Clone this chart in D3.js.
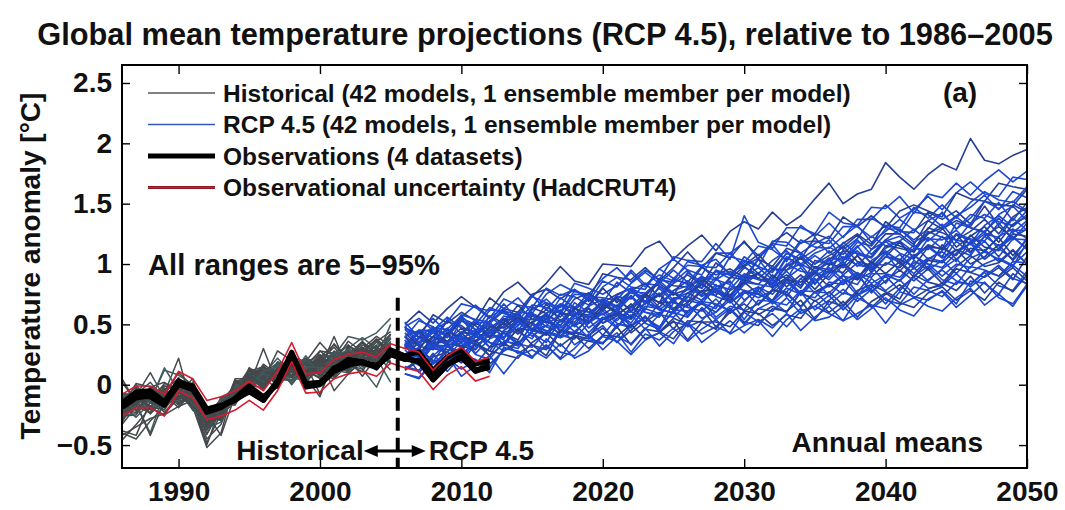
<!DOCTYPE html>
<html><head><meta charset="utf-8">
<script src="https://cdn.jsdelivr.net/npm/d3@7"></script>
<style>
body{margin:0;background:#fff;}
svg{display:block;}
text{font-family:"Liberation Sans",Arial,Helvetica,sans-serif;font-weight:bold;fill:#111;}
</style></head><body>
<svg id="chart" width="1065" height="510"></svg>
<script>
// ---------- data ----------
const titleText = "Global mean temperature projections (RCP 4.5), relative to 1986\u20132005";
const yLabelText = "Temperature anomaly [\u00B0C]";
const xTicks = [1990, 2000, 2010, 2020, 2030, 2040, 2050];
const yTicks = [-0.5, 0, 0.5, 1, 1.5, 2, 2.5];
const yTickLabels = ["\u22120.5", "0", "0.5", "1", "1.5", "2", "2.5"];
const legendLabels = [
  "Historical (42 models, 1 ensemble member per model)",
  "RCP 4.5 (42 models, 1 ensemble member per model)",
  "Observations (4 datasets)",
  "Observational uncertainty (HadCRUT4)"
];
const histYears = [1986,1987,1988,1989,1990,1991,1992,1993,1994,1995,1996,1997,1998,1999,2000,2001,2002,2003,2004,2005];
const rcpYears = [2006,2007,2008,2009,2010,2011,2012,2013,2014,2015,2016,2017,2018,2019,2020,2021,2022,2023,2024,2025,2026,2027,2028,2029,2030,2031,2032,2033,2034,2035,2036,2037,2038,2039,2040,2041,2042,2043,2044,2045,2046,2047,2048,2049,2050];
const obsYears = [1986,1987,1988,1989,1990,1991,1992,1993,1994,1995,1996,1997,1998,1999,2000,2001,2002,2003,2004,2005,2006,2007,2008,2009,2010,2011,2012];
const boundaryYear = 2005.5;

const histModels = [
[-.27,-.14,-.24,-.13,-.03,-.14,-.41,-.19,.01,-.03,.09,.22,.10,.07,.24,.24,.40,.37,.43,.55],
[-.42,-.35,-.28,-.24,-.11,-.03,-.37,-.23,-.02,-.07,.10,.18,.12,.10,.23,.33,.21,.31,.23,.42],
[-.33,-.18,-.18,-.07,.22,-.21,-.27,-.21,-.12,.11,.07,.03,.23,.19,.35,.22,.33,.21,.36,.44],
[-.40,-.45,-.30,-.18,-.09,-.18,-.48,-.24,-.15,.08,.14,.06,.14,.06,.28,.26,.24,.35,.24,.35],
[-.29,-.16,-.40,-.06,-.17,-.09,-.34,-.15,-.17,.05,.12,.04,.22,.17,.16,.15,.30,.39,.30,.41],
[-.27,-.16,-.42,-.13,-.06,-.14,-.24,-.42,-.09,.13,.11,.02,.15,.22,.15,.34,.20,.30,.40,.32],
[-.26,-.25,-.10,-.23,-.09,-.12,-.50,-.17,-.05,-.02,.17,.08,.06,.21,.20,.31,.17,.33,.30,.42],
[-.38,-.42,-.14,-.14,-.05,-.18,-.52,-.40,.02,.01,.13,.01,.16,.16,.28,.18,.25,.36,.25,.39],
[-.17,-.27,-.15,-.19,-.05,-.21,-.31,-.16,-.12,.04,.01,.19,.12,.21,.11,.26,.32,.27,.22,.50],
[-.46,-.33,-.19,-.25,-.18,-.13,-.45,-.33,-.04,.05,.04,.18,.18,.09,.20,.19,.36,.27,.38,.27],
[-.16,-.21,-.13,-.03,-.16,-.07,-.33,-.14,-.12,.05,.16,.03,.16,.11,.24,.10,.24,.30,.26,.38],
[-.27,-.10,-.24,-.11,-.03,-.13,-.21,-.24,-.03,-.04,.09,.03,.21,.16,.13,.40,.12,.28,.35,.28],
[-.13,-.19,-.11,-.19,-.08,-.02,-.36,-.31,-.01,.07,.05,.16,.08,.24,.09,.19,.27,.22,.36,.24],
[-.30,-.14,-.05,-.16,-.10,-.04,-.29,-.29,.02,.01,.11,.00,.12,.18,.25,.14,.23,.23,.33,.33],
[-.20,-.08,-.21,-.08,-.19,-.05,-.32,-.19,-.14,.14,.04,.28,.20,.06,.14,.28,.18,.31,.22,.32],
[-.15,-.18,-.23,-.07,-.06,-.19,-.27,-.12,-.10,-.02,.14,.11,.07,.15,.23,.15,.31,.18,.30,.28],
[-.25,-.24,-.09,-.10,.00,-.11,-.37,-.17,.01,.00,-.03,.19,.13,.12,.20,.26,.14,.29,.21,.39],
[-.18,-.09,-.18,-.21,-.03,-.09,-.41,-.20,-.12,.11,.15,.05,.15,.07,.17,.24,.20,.35,.19,.31],
[-.31,-.12,-.14,-.05,-.13,-.12,-.23,-.28,-.04,.13,-.01,.13,.11,.20,.14,.11,.32,.25,.29,.25],
[-.21,-.23,-.05,-.15,-.04,-.17,-.28,-.13,-.15,.06,.10,.07,.03,.21,.12,.27,.21,.28,.37,.26],
[-.12,-.15,-.20,-.13,-.01,-.14,-.25,-.30,-.06,.09,.03,.18,.06,.17,.07,.23,.29,.23,.20,.36],
[-.21,-.04,-.13,-.03,-.15,-.06,-.32,-.13,-.07,-.05,.12,.11,.18,.07,.16,.11,.28,.18,.27,.26],
[-.12,-.21,-.08,-.14,.02,-.09,-.24,-.23,-.12,.08,-.04,.15,.12,.11,.23,.13,.12,.29,.24,.22],
[-.18,-.09,-.20,-.01,-.05,-.14,-.20,-.17,-.16,.10,.06,.05,.17,.04,.19,.18,.13,.23,.32,.18],
[-.09,-.18,-.05,-.11,-.14,.02,-.37,-.19,-.01,.01,.13,.07,.04,.21,.12,.20,.10,.27,.19,.35],
[-.23,-.12,-.14,.01,-.03,-.13,-.27,-.29,.01,.04,-.02,.13,.19,.08,.15,.10,.22,.29,.21,.20],
[-.14,-.06,-.15,-.15,-.06,.01,-.32,-.14,-.08,-.04,.08,.03,.20,.12,.05,.23,.18,.17,.30,.30],
[-.24,-.15,-.03,-.08,-.12,-.04,-.38,-.10,-.10,.11,.00,.11,.08,.20,.18,.07,.24,.22,.20,.34],
[-.11,-.22,-.12,-.04,.00,-.16,-.28,-.24,.03,.02,.09,.16,.03,.14,.08,.27,.16,.13,.28,.25],
[-.19,-.07,-.07,-.19,-.04,-.01,-.35,-.18,-.09,.13,.01,.07,.16,.03,.22,.19,.15,.30,.16,.28],
[-.08,-.10,-.18,-.07,-.10,-.14,-.22,-.21,.02,-.01,.30,.00,.11,.17,.10,.15,.27,.15,.26,.32],
[-.27,-.05,-.09,-.12,-.01,-.07,-.33,-.15,-.14,.14,.04,.12,.01,.15,.21,.14,.19,.26,.22,.19],
[-.08,-.11,-.13,.12,.08,.00,-.25,-.26,-.03,.10,.02,.17,.06,.03,.13,.23,.10,.19,.27,.19],
[-.12,-.02,-.10,-.13,.06,-.09,-.35,-.11,-.07,.08,.12,-.02,.14,.12,.06,.17,.22,.07,.23,.22],
[-.18,.01,-.02,-.07,-.12,-.02,-.28,-.24,.04,-.03,.07,.13,.06,.19,.08,.05,.17,.24,.18,.25],
[.02,-.14,-.09,-.01,-.03,-.14,-.19,-.22,-.11,.09,-.02,.09,.16,.07,.22,-.05,.09,.20,.25,.12],
[-.15,-.08,.02,-.12,.01,-.03,-.36,-.13,-.01,-.05,.09,.05,.03,.21,.11,.19,.23,.13,-.02,.24],
[-.10,-.17,-.02,.02,-.06,-.11,-.24,-.28,.05,.05,.01,.14,.12,.01,.18,.13,.12,.26,.19,.26],
[-.20,-.03,-.11,-.04,.05,-.08,-.23,-.17,-.12,.12,.05,-.03,.13,.17,-.08,.21,.16,.11,.29,.17],
[-.07,-.09,.10,-.11,-.07,.05,-.35,-.15,-.06,.00,.15,.02,.11,.08,.20,.06,.21,.20,.12,.29],
[-.16,.00,-.14,.14,-.05,-.10,-.26,-.12,-.08,-.02,.11,.15,.00,.15,.14,.12,.10,.27,.22,.02],
[.05,-.15,-.06,-.09,.10,-.01,-.31,-.27,.02,.07,-.01,.08,.15,.06,-.10,.22,.19,.16,.13,.30]
];

const rcpModels = [
[.50,.61,.51,.63,.73,.64,.61,.77,.85,.73,.84,.98,.86,.83,1.00,.99,.98,1.13,1.19,1.04,1.15,1.24,1.11,1.27,1.35,1.29,1.43,1.32,1.40,1.54,1.67,1.50,1.58,1.62,1.84,1.72,1.62,1.74,1.83,1.78,2.04,1.86,1.83,1.90,1.95],
[.47,.42,.55,.43,.56,.66,.56,.63,.72,.59,.75,.83,.77,.75,.88,.97,.85,.95,.87,1.06,1.03,1.02,1.17,1.04,1.40,1.18,1.13,1.30,1.30,1.25,1.43,1.34,1.32,1.47,1.46,1.56,1.42,1.58,1.55,1.67,1.57,1.69,1.78,1.68,1.77],
[.32,.45,.45,.56,.47,.44,.62,.61,.58,.73,.68,.64,.84,.80,.75,.82,.93,.81,.96,1.04,.95,.91,1.09,1.09,1.18,1.07,1.17,1.15,1.32,1.23,1.34,1.22,1.37,1.37,1.49,1.38,1.45,1.56,1.45,1.59,1.68,1.58,1.56,1.72,1.70],
[.48,.39,.58,.51,.60,.53,.72,.63,.60,.75,.79,.71,.79,.71,.92,.89,.87,.97,.86,.97,1.10,.97,1.09,1.05,1.19,1.04,1.18,1.26,1.17,1.25,1.21,1.39,1.31,1.40,1.30,1.44,1.49,1.44,1.39,1.59,1.54,1.52,1.67,1.64,1.62],
[.33,.44,.33,.54,.42,.52,.51,.63,.49,.63,.68,.60,.78,.73,.72,.70,.84,.93,.84,.95,.85,.98,.97,1.09,.98,1.05,1.16,1.02,1.18,1.19,1.17,1.31,1.31,1.22,1.32,1.30,1.47,1.38,1.49,1.38,1.51,1.60,1.53,1.51,1.64],
[.39,.53,.48,.39,.55,.50,.64,.59,.55,.74,.62,.75,.73,.66,.81,.89,.81,.79,.96,.88,.99,.98,.87,1.06,1.03,.98,1.19,1.18,1.09,1.17,1.23,1.12,1.21,1.38,1.31,1.25,1.43,1.41,1.31,1.40,1.47,1.57,1.45,1.60,1.55],
[.32,.29,.45,.42,.35,.51,.45,.54,.44,.64,.59,.66,.57,.65,.80,.68,.78,.84,.73,.84,.91,.83,1.01,.92,.99,1.08,.95,1.09,1.04,1.22,1.09,1.17,1.25,1.16,1.35,1.27,1.26,1.43,1.37,1.44,1.33,1.52,1.49,1.48,1.62],
[.48,.55,.45,.52,.67,.64,.55,.71,.66,.64,.80,.74,.79,.69,.86,.81,.95,.83,.91,.86,1.02,.99,1.04,.91,1.01,1.15,1.12,1.03,1.20,1.14,1.13,1.23,1.32,1.18,1.27,1.37,1.28,1.36,1.42,1.29,1.38,1.52,1.46,1.52,1.44],
[.30,.38,.45,.36,.43,.54,.39,.49,.60,.59,.51,.67,.63,.76,.64,.73,.71,.84,.82,.74,.93,.85,.94,.88,1.06,.98,.93,1.09,1.04,1.12,1.20,1.04,1.18,1.15,1.29,1.29,1.20,1.29,1.43,1.29,1.41,1.38,1.51,1.36,1.51],
[.40,.32,.40,.52,.49,.40,.57,.51,.66,.54,.62,.56,.71,.76,.68,.75,.80,.68,.88,.82,.81,.97,.91,.96,.89,1.04,.98,1.13,1.09,1.00,1.07,1.14,1.24,1.12,1.25,1.25,1.16,1.36,1.29,1.36,1.31,1.48,1.32,1.49,1.43],
[.30,.43,.30,.27,.43,.42,.40,.54,.60,.44,.54,.62,.49,.65,.71,.65,.78,.67,.74,.87,.84,.74,.87,.94,.86,1.04,.89,.99,1.09,1.00,1.11,.99,1.14,1.23,1.15,1.19,1.29,1.19,1.29,1.39,1.30,1.26,1.41,1.48,1.36],
[.52,.39,.48,.40,.58,.54,.52,.67,.53,.66,.64,.59,.75,.74,.68,.85,.76,.73,.87,.85,.95,.80,.95,.91,1.03,.92,1.03,1.11,1.00,1.09,1.14,1.08,1.20,1.08,1.20,1.29,1.18,1.25,1.33,1.19,1.34,1.41,1.35,1.32,1.44],
[.22,.18,.35,.35,.43,.32,.41,.39,.56,.46,.57,.44,.59,.58,.70,.59,.65,.76,.64,.78,.86,.76,.74,.89,.87,.83,.96,.95,1.06,.97,.93,1.11,1.09,1.06,1.20,1.15,1.11,1.30,1.26,1.20,1.27,1.37,1.25,1.39,1.47],
[.48,.35,.46,.42,.55,.40,.53,.61,.52,.59,.54,.72,.64,.72,.61,.74,.80,.74,.68,.88,.83,.80,.94,.91,.89,.97,.87,1.06,.98,1.07,.99,1.18,1.08,1.05,1.19,1.23,1.14,1.22,1.13,1.34,1.30,1.27,1.38,1.26,1.36],
[.24,.36,.36,.47,.35,.42,.52,.38,.54,.54,.52,.65,.64,.55,.65,.62,.79,.69,.80,.68,.81,.90,.82,.79,.92,.88,.98,.87,1.07,.96,1.05,1.03,1.15,1.00,1.13,1.19,1.10,1.27,1.22,1.20,1.17,1.32,1.40,1.31,1.41],
[.32,.45,.33,.40,.53,.49,.39,.52,.58,.50,.67,.53,.62,.71,.62,.72,.61,.75,.84,.75,.79,.89,.78,.88,.98,.88,.84,.98,1.05,.93,1.03,1.15,1.02,.99,1.15,1.13,1.10,1.25,1.30,1.14,1.23,1.31,1.18,1.33,1.39],
[.22,.16,.33,.32,.27,.44,.35,.32,.47,.45,.55,.40,.55,.52,.63,.53,.64,.73,.62,.71,.76,.70,.83,.70,.83,.92,.82,.88,.97,.83,.99,1.06,.99,.97,1.09,1.18,1.05,1.15,1.06,1.25,1.21,1.19,1.34,1.20,1.34],
[.46,.33,.47,.46,.57,.45,.51,.61,.49,.62,.71,.60,.57,.72,.69,.65,.77,.76,.86,.76,.72,.89,.87,.83,.97,.91,.86,1.05,1.00,.94,1.01,1.11,.98,1.12,1.19,1.09,1.04,1.21,1.20,1.28,1.16,1.25,1.22,1.38,1.28],
[.23,.40,.33,.41,.30,.43,.49,.43,.37,.57,.52,.49,.63,.60,.58,.66,.56,.75,.68,.76,.68,.87,.78,.74,.88,.92,.84,.91,.82,1.03,1.00,.97,1.07,.95,1.06,1.18,1.05,1.16,1.12,1.25,1.10,1.23,1.31,1.22,1.29],
[.32,.45,.44,.34,.44,.41,.57,.47,.58,.46,.59,.67,.59,.56,.68,.64,.74,.62,.82,.70,.79,.77,.89,.74,.87,.92,.83,1.00,.94,.92,.89,1.03,1.11,1.01,1.11,1.00,1.13,1.12,1.23,1.11,1.17,1.27,1.12,1.28,1.28],
[.37,.22,.32,.41,.32,.42,.31,.45,.54,.45,.49,.59,.48,.58,.68,.58,.54,.68,.76,.63,.73,.85,.73,.69,.85,.83,.81,.95,1.00,.84,.94,1.02,.88,1.03,1.10,1.03,1.16,1.04,1.11,1.24,1.20,1.10,1.23,1.29,1.21],
[.40,.25,.40,.36,.47,.36,.47,.55,.44,.52,.58,.52,.64,.51,.63,.72,.61,.67,.75,.61,.76,.83,.76,.73,.85,.93,.80,.89,.80,.98,.95,.93,1.07,.93,1.06,1.04,.98,1.14,1.13,1.07,1.24,1.14,1.11,1.25,1.23],
[.29,.17,.24,.34,.22,.35,.44,.33,.30,.45,.43,.39,.51,.51,.61,.51,.47,.65,.63,.59,.73,.68,.63,.82,.78,.72,.78,.88,.76,.90,.97,.87,.83,1.00,.99,1.08,.96,1.05,1.02,1.19,1.09,1.19,1.06,1.21,1.20],
[.40,.45,.39,.33,.53,.46,.43,.57,.54,.51,.59,.49,.68,.60,.67,.59,.78,.68,.64,.78,.82,.73,.80,.70,.91,.87,.84,.94,.82,.92,1.04,.91,1.01,.96,1.09,.94,1.07,1.14,1.05,1.12,1.07,1.23,1.15,1.23,1.12],
[.32,.23,.40,.34,.32,.29,.43,.51,.42,.52,.41,.53,.52,.63,.51,.57,.67,.52,.68,.68,.65,.78,.78,.68,.78,.75,.91,.81,.91,.79,.92,1.00,.92,.89,1.01,.97,1.08,.96,1.16,1.04,1.13,1.11,1.22,1.07,1.20],
[.35,.23,.37,.46,.37,.40,.50,.39,.49,.58,.48,.43,.57,.64,.51,.61,.73,.60,.56,.72,.70,.67,.81,.86,.70,.79,.87,.73,.88,.94,.87,.99,.87,.93,1.06,1.02,.92,1.04,1.10,1.02,1.19,1.04,1.13,1.22,1.13],
[.25,.23,.37,.23,.36,.34,.28,.44,.44,.38,.55,.45,.42,.56,.54,.63,.48,.63,.59,.70,.59,.70,.79,.68,.76,.81,.75,.87,.74,.86,.95,.84,.90,.98,.84,.99,1.07,1.00,.97,1.09,1.17,1.04,1.13,1.04,1.22],
[.43,.32,.29,.43,.40,.36,.48,.47,.56,.46,.42,.59,.57,.52,.66,.60,.55,.74,.68,.62,.68,.78,.65,.78,.85,.75,.70,.87,.85,.93,.81,.90,.87,1.02,.92,1.02,.89,1.03,1.01,1.12,1.00,1.06,1.16,1.03,1.16],
[.21,.18,.32,.29,.26,.34,.24,.43,.35,.43,.35,.54,.44,.40,.54,.58,.49,.56,.47,.68,.64,.61,.71,.59,.69,.81,.69,.80,.75,.88,.73,.86,.93,.84,.91,.86,1.03,.95,1.03,.92,1.05,1.10,1.04,.98,1.18],
[.31,.39,.31,.27,.39,.35,.45,.33,.53,.40,.49,.47,.58,.43,.55,.60,.51,.68,.62,.60,.56,.70,.78,.68,.78,.66,.78,.77,.88,.76,.82,.91,.76,.92,.92,.89,1.01,1.00,.90,1.00,.97,1.12,1.02,1.12,1.00],
[.21,.30,.20,.16,.30,.37,.24,.34,.46,.33,.29,.45,.43,.40,.54,.59,.43,.52,.60,.46,.61,.67,.60,.73,.61,.67,.79,.75,.65,.77,.83,.75,.92,.77,.86,.95,.86,.96,.84,.98,1.07,.98,1.01,1.11,1.00],
[.23,.35,.43,.32,.38,.45,.31,.45,.52,.45,.41,.53,.61,.47,.56,.47,.64,.60,.58,.71,.57,.69,.67,.61,.76,.75,.69,.85,.75,.72,.85,.83,.92,.76,.91,.86,.97,.86,.96,1.04,.93,1.00,1.05,.99,1.10],
[.34,.24,.19,.36,.34,.30,.43,.37,.32,.50,.45,.39,.44,.54,.41,.55,.61,.51,.46,.62,.61,.69,.56,.65,.62,.78,.67,.77,.64,.77,.76,.87,.74,.80,.90,.78,.90,.98,.87,.83,.98,.95,.90,1.02,1.01],
[.13,.21,.13,.32,.22,.17,.31,.35,.26,.33,.24,.45,.41,.38,.47,.35,.45,.57,.44,.55,.50,.63,.48,.60,.67,.58,.65,.60,.77,.69,.77,.66,.78,.83,.77,.71,.91,.85,.82,.96,.93,.89,.97,.87,1.06],
[.37,.25,.33,.31,.41,.26,.38,.43,.33,.50,.44,.41,.38,.51,.59,.48,.58,.46,.58,.56,.67,.55,.60,.70,.54,.70,.69,.66,.78,.77,.66,.76,.73,.88,.78,.87,.75,.87,.95,.86,.83,.94,.90,.99,.90],
[.24,.31,.17,.27,.39,.25,.21,.36,.34,.31,.44,.49,.33,.41,.49,.35,.49,.55,.48,.60,.48,.53,.66,.62,.51,.63,.69,.60,.77,.62,.70,.79,.69,.79,.67,.80,.89,.80,.82,.92,.81,.90,.99,.88,.84],
[.12,.20,.06,.20,.27,.20,.17,.28,.36,.23,.32,.22,.40,.36,.34,.48,.33,.46,.44,.38,.53,.52,.46,.63,.52,.49,.63,.61,.70,.54,.69,.65,.76,.64,.75,.83,.72,.79,.84,.78,.90,.76,.88,.97,.86],
[.25,.20,.34,.27,.22,.40,.35,.28,.34,.43,.30,.43,.50,.39,.34,.50,.49,.56,.44,.52,.49,.64,.54,.63,.50,.63,.61,.72,.59,.65,.74,.62,.74,.82,.70,.67,.81,.78,.73,.85,.83,.93,.82,.78,.94],
[.09,.05,.18,.22,.13,.20,.10,.31,.27,.23,.33,.21,.30,.42,.29,.40,.34,.47,.32,.44,.51,.42,.48,.43,.60,.52,.59,.48,.61,.65,.59,.53,.72,.66,.63,.77,.73,.70,.78,.67,.86,.84,.75,.92,.83],
[.26,.10,.23,.27,.18,.34,.28,.25,.22,.35,.43,.32,.41,.30,.41,.40,.50,.38,.43,.53,.37,.52,.52,.48,.61,.59,.49,.58,.55,.70,.60,.69,.56,.69,.76,.68,.64,.76,.81,.70,.78,.70,.85,.77,.91],
[.09,.06,.19,.24,.07,.16,.24,.09,.24,.29,.22,.34,.22,.28,.40,.36,.25,.37,.43,.34,.51,.35,.44,.53,.43,.53,.40,.54,.63,.53,.56,.65,.54,.63,.72,.62,.57,.71,.77,.64,.74,.85,.72,.67,.83],
[.15,.12,.26,.11,.24,.21,.14,.30,.28,.22,.38,.27,.24,.37,.35,.43,.27,.42,.37,.47,.36,.46,.54,.42,.49,.54,.47,.59,.45,.56,.65,.53,.59,.66,.51,.66,.72,.65,.61,.72,.80,.66,.75,.65,.82]
];

const obsHadCRUT4 = [-.17,-.10,-.10,-.17,.03,-.03,-.21,-.18,-.13,-.05,-.13,.03,.27,.01,.02,.13,.17,.19,.15,.26,.22,.19,.04,.16,.23,.11,.15];
const obsGISTEMP  = [-.15,-.06,-.05,-.14,.03,-.02,-.23,-.19,-.11,-.01,-.10,.00,.21,.00,.01,.13,.21,.19,.14,.29,.24,.27,.12,.23,.29,.17,.20];
const obsNCDC     = [-.16,-.08,-.08,-.15,.02,-.01,-.20,-.17,-.12,-.04,-.12,.03,.25,.00,.01,.14,.18,.18,.15,.25,.21,.20,.07,.17,.24,.12,.16];
const obsERAI     = [-.19,-.11,-.09,-.16,.00,-.04,-.22,-.18,-.12,-.06,-.13,.02,.22,-.02,.00,.11,.16,.19,.16,.25,.21,.20,.04,.17,.22,.12,.14];
const hadUpper = [-.08,-.01,-.01,-.08,.11,.05,-.13,-.10,-.05,.03,-.05,.11,.35,.09,.10,.21,.25,.27,.23,.34,.30,.27,.12,.24,.31,.19,.23];
const hadLower = [-.26,-.19,-.19,-.26,-.05,-.11,-.29,-.26,-.21,-.13,-.21,-.05,.19,-.07,-.06,.05,.09,.11,.07,.18,.14,.11,-.04,.08,.15,.03,.07];

// ---------- layout ----------
const svg = d3.select('#chart');
const M = {left:122, right:1027, top:65, bottom:468};
const x = d3.scaleLinear().domain([1986, 2050]).range([M.left, M.right]);
const y = d3.scaleLinear().domain([-0.69, 2.649]).range([M.bottom, M.top]);
const FONT = '"Liberation Sans",Arial,Helvetica,sans-serif';

svg.append('rect').attr('width',1065).attr('height',510).attr('fill','#fff');

svg.append('defs').append('clipPath').attr('id','clip')
  .append('rect').attr('x',M.left).attr('y',M.top).attr('width',M.right-M.left).attr('height',M.bottom-M.top);

const plot = svg.append('g').attr('clip-path','url(#clip)');
const line = d3.line().x(d=>x(d[0])).y(d=>y(d[1]));
const pts = (years, vals) => vals.map((v,i)=>[years[i], v]);

// historical models
plot.append('g').selectAll('path').data(histModels).join('path')
  .attr('d', r => line(pts(histYears, r)))
  .attr('fill','none').attr('stroke',(r,i)=> i%4===0 ? '#3f5a5c' : '#45494b').attr('stroke-width',1.5).attr('stroke-linejoin','round');

// RCP4.5 models
plot.append('g').selectAll('path').data(rcpModels).join('path')
  .attr('d', r => line(pts(rcpYears, r)))
  .attr('fill','none').attr('stroke', (r,i)=> i%3===0 ? '#253f95' : '#1d48d0').attr('stroke-width',1.6).attr('stroke-linejoin','round');

// observations
const obsSets = [obsHadCRUT4, obsGISTEMP, obsNCDC, obsERAI];
plot.append('g').selectAll('path').data(obsSets).join('path')
  .attr('d', r => line(pts(obsYears, r)))
  .attr('fill','none').attr('stroke','#000').attr('stroke-width',5).attr('stroke-linejoin','round');

// observational uncertainty
plot.append('g').selectAll('path').data([hadUpper, hadLower]).join('path')
  .attr('d', r => line(pts(obsYears, r)))
  .attr('fill','none').attr('stroke','#d8182c').attr('stroke-width',1.6).attr('stroke-linejoin','round');

// dashed boundary
const bx = x(boundaryYear);
svg.append('line').attr('x1',bx).attr('x2',bx).attr('y1',y(0.72)).attr('y2',M.bottom)
  .attr('stroke','#000').attr('stroke-width',4).attr('stroke-dasharray','13,7');

// ---------- axes ----------
function styleAxis(g){
  g.select('.domain').remove();
  g.selectAll('.tick line').attr('stroke','#000').attr('stroke-width',1.4);
  g.attr('font-family', FONT).attr('font-size', 28).attr('font-weight','bold');
  g.selectAll('text').attr('fill','#111');
}
svg.append('g').attr('transform',`translate(0,${M.bottom})`)
  .call(d3.axisBottom(x).tickValues(xTicks).tickSize(-9).tickSizeOuter(0).tickPadding(13).tickFormat(d3.format('d')))
  .call(styleAxis);
svg.append('g').attr('transform',`translate(0,${M.top})`)
  .call(d3.axisTop(x).tickValues(xTicks).tickSize(-9).tickSizeOuter(0).tickFormat(''))
  .call(styleAxis);
svg.append('g').attr('transform',`translate(${M.left},0)`)
  .call(d3.axisLeft(y).tickValues(yTicks).tickSize(-8).tickSizeOuter(0).tickPadding(10).tickFormat((d,i)=>yTickLabels[i]))
  .call(styleAxis);
svg.append('g').attr('transform',`translate(${M.right},0)`)
  .call(d3.axisRight(y).tickValues(yTicks).tickSize(-8).tickSizeOuter(0).tickFormat(''))
  .call(styleAxis);

svg.append('rect').attr('x',M.left).attr('y',M.top).attr('width',M.right-M.left).attr('height',M.bottom-M.top)
  .attr('fill','none').attr('stroke','#000').attr('stroke-width',2);

// ---------- text ----------
function fitWidth(sel, w){
  const n = sel.node(); const cur = n.getComputedTextLength();
  const fs = parseFloat(sel.attr('font-size'));
  sel.attr('font-size', fs * w / cur);
  return fs * w / cur;
}
const title = svg.append('text').attr('x',545).attr('y',45).attr('text-anchor','middle')
  .attr('font-size',30).text(titleText);
fitWidth(title, 1016);

svg.append('text').attr('transform','translate(40,266) rotate(-90)').attr('text-anchor','middle')
  .attr('font-size',28).text(yLabelText);

// legend
const legY = [93, 124.5, 156, 187.5];
const leg = svg.append('g');
const legStyles = [
  {c:'#55595b', w:1.6},
  {c:'#3358b8', w:1.6},
  {c:'#000', w:5},
  {c:'#e01b30', w:2}
];
legendLabels.forEach((t,i)=>{
  if(i===3){
    leg.append('line').attr('x1',148).attr('x2',215).attr('y1',legY[i]).attr('y2',legY[i])
      .attr('stroke','#3a1010').attr('stroke-width',3.2);
  }
  leg.append('line').attr('x1',148).attr('x2',215).attr('y1',legY[i]).attr('y2',legY[i])
    .attr('stroke',legStyles[i].c).attr('stroke-width',legStyles[i].w);
});
const legTexts = legendLabels.map((t,i)=> leg.append('text').attr('x',223).attr('y',legY[i]+8.5).attr('font-size',24).text(t));
const legFs = fitWidth(legTexts[0], 628);
legTexts.forEach(s=>s.attr('font-size', legFs));

svg.append('text').attr('x',960).attr('y',102).attr('text-anchor','middle').attr('font-size',28).text('(a)');

const ar = svg.append('text').attr('x',148).attr('y',275).attr('font-size',28).text('All ranges are 5\u201395%');
fitWidth(ar, 292);

svg.append('text').attr('x',983).attr('y',452).attr('text-anchor','end').attr('font-size',28).text('Annual means');

// Historical <-> RCP 4.5 annotation
const ay = 451;
svg.append('text').attr('x',bx-34).attr('y',460).attr('text-anchor','end').attr('font-size',28).text('Historical');
svg.append('text').attr('x',bx+31).attr('y',460).attr('text-anchor','start').attr('font-size',28).text('RCP 4.5');
svg.append('line').attr('x1',bx-24).attr('x2',bx+18).attr('y1',ay).attr('y2',ay).attr('stroke','#000').attr('stroke-width',3);
svg.append('path').attr('d',`M${bx-34},${ay} L${bx-20},${ay-6} L${bx-20},${ay+6} Z`).attr('fill','#000');
svg.append('path').attr('d',`M${bx+28},${ay} L${bx+14},${ay-6} L${bx+14},${ay+6} Z`).attr('fill','#000');
</script>
</body></html>
